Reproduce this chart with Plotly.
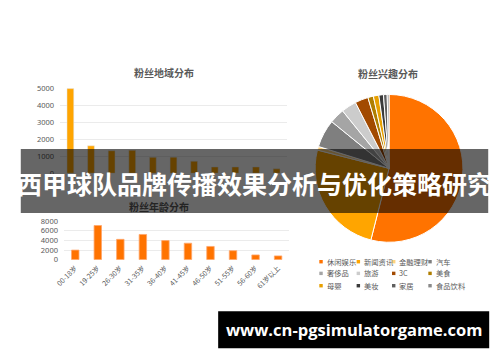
import plotly.graph_objects as go

W, H = 500, 362

# ---------------- data ----------------
region_cats = ["R1", "R2", "R3", "R4", "R5", "R6", "R7", "R8", "R9", "R10", "R11"]
region_vals = [5000, 1620, 1330, 1350, 940, 950, 710, 370, 370, 370, 260]

age_cats = ["00-18岁", "19-25岁", "26-30岁", "31-35岁", "36-40岁",
            "41-45岁", "46-50岁", "51-55岁", "56-60岁", "61岁以上"]
age_vals = [2000, 7100, 4230, 5240, 3970, 3430, 2760, 1880, 1000, 800]

interest_labels = ["休闲娱乐", "新闻资讯", "金融理财", "汽车", "奢侈品", "旅游",
                   "3C", "美食", "母婴", "美妆", "家居", "食品饮料"]
interest_vals = [53.9, 25.0, 0.8, 6.1, 3.3, 3.3, 2.9, 1.2, 1.2, 1.0, 0.8, 0.4]
interest_colors = ["#FF7300", "#FFA500", "#FFD27F", "#7F7F7F", "#A5A5A5", "#CCCCCC",
                   "#A24A00", "#B07E00", "#E8A000", "#3A3A3A", "#5F5F5F", "#8A8A8A"]

region_ticks = [0, 1000, 2000, 3000, 4000, 5000]
age_ticks = [0, 2000, 4000, 6000, 8000]

banner_text = "西甲球队品牌传播效果分析与优化策略研究"
url_text = "www.cn-pgsimulatorgame.com"

FONT = "Noto Sans CJK SC"
GRAY = "#595959"


def px(x):
    return x / W


def py(y):
    return 1 - y / H


fig = go.Figure()

fig.add_trace(go.Bar(x=region_cats, y=region_vals, marker_color="#FFA500",
                     xaxis="x", yaxis="y", showlegend=False))
fig.add_trace(go.Bar(x=age_cats, y=age_vals, marker_color="#FF7300",
                     marker_line=dict(color="#FFA66B", width=0.8),
                     xaxis="x2", yaxis="y2", showlegend=False))
fig.add_trace(go.Pie(labels=interest_labels, values=interest_vals, sort=False,
                     direction="clockwise", rotation=0, textinfo="none",
                     marker=dict(colors=interest_colors, line=dict(color="white", width=1)),
                     domain=dict(x=[px(311), px(463)], y=[py(244), py(92)]),
                     showlegend=False))

tickfont = dict(family="Noto Sans", size=7.5, color=GRAY)

fig.update_layout(
    width=W, height=H, margin=dict(l=0, r=0, t=0, b=0),
    paper_bgcolor="white", plot_bgcolor="white",
    bargap=0.67,
    xaxis=dict(domain=[px(52), px(283)], anchor="y", showticklabels=False,
               showgrid=False, zeroline=False, showline=False, ticks=""),
    yaxis=dict(domain=[py(173), py(85.1)], anchor="x", range=[0, 5050],
               tickvals=region_ticks, gridcolor="#EBEBEB", gridwidth=1,
               zeroline=False, showline=False, tickfont=tickfont,
               ticklabelstandoff=5),
    xaxis2=dict(domain=[px(56), px(285.5)], anchor="y2", tickangle=-45,
                showgrid=False, zeroline=False, showline=False, ticks="",
                tickfont=dict(family=FONT, size=7, color=GRAY), ticklabelstandoff=2),
    yaxis2=dict(domain=[py(262), py(221.8)], anchor="x2", range=[0, 8100],
                tickvals=age_ticks, gridcolor="#EBEBEB", gridwidth=1,
                zeroline=False, showline=False, tickfont=tickfont,
                ticklabelstandoff=5),
)

annotations = []
shapes = []
# chart titles
for text, x, y, c in [("粉丝地域分布", 158, 69, GRAY), ("粉丝兴趣分布", 386, 70.5, GRAY),
                      ("粉丝年龄分布", 153, 207, "#242424")]:
    annotations.append(dict(text="<b>%s</b>" % text, x=px(x), y=py(y), xref="paper", yref="paper",
                            xanchor="center", yanchor="middle", showarrow=False,
                            font=dict(family=FONT, size=10, color=c)))

# custom legend for the pie
col_x = [316, 354, 390, 427]
row_y = [264, 276, 288.7]
for i, (lab, col) in enumerate(zip(interest_labels, interest_colors)):
    r, c = divmod(i, 4)
    mx, my = col_x[c], row_y[r]
    shapes.append(dict(type="rect", xref="paper", yref="paper",
                       x0=px(mx), x1=px(mx + 3.5), y0=py(my + 1.75), y1=py(my - 1.75),
                       fillcolor=col, line=dict(width=0)))
    annotations.append(dict(
        text=lab, x=px(mx + 5.5), y=py(my), xref="paper", yref="paper",
        xanchor="left", yanchor="middle", showarrow=False,
        font=dict(family=FONT, size=7.3, color=GRAY)))

# banner and url
annotations.append(dict(text="<b>%s</b>" % banner_text, x=0.5, y=py(183.5), xref="paper", yref="paper",
                        xanchor="center", yanchor="middle", showarrow=False,
                        font=dict(family=FONT, size=25, color="white")))
annotations.append(dict(text="<b>%s</b>" % url_text, x=px(351), y=py(334), xref="paper", yref="paper",
                        xanchor="center", yanchor="middle", showarrow=False,
                        font=dict(family="Open Sans", size=16.5, color="white")))

shapes += [
    dict(type="rect", xref="paper", yref="paper", x0=px(12), x1=px(488), y0=py(214), y1=py(148),
         fillcolor="rgba(0,0,0,0.6)", line=dict(width=0), layer="above"),
    dict(type="rect", xref="paper", yref="paper", x0=px(213), x1=px(489), y0=py(353), y1=py(315),
         fillcolor="black", line=dict(width=0), layer="above"),
]

fig.update_layout(annotations=annotations, shapes=shapes)

fig.write_html("out.html")
